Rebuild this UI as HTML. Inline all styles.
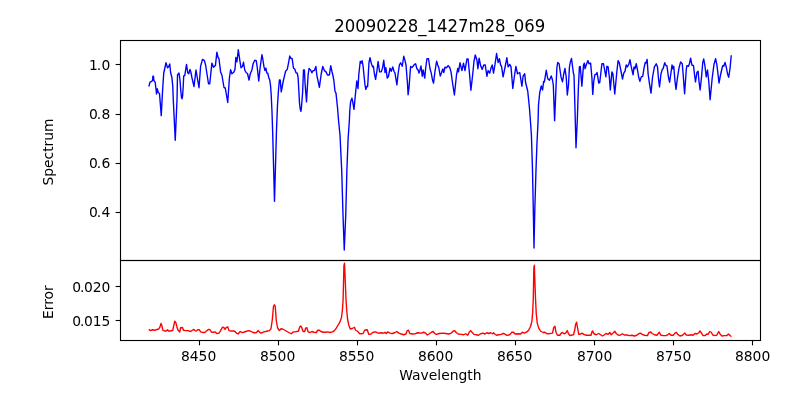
<!DOCTYPE html>
<html lang="en"><head><meta charset="utf-8"><title>20090228_1427m28_069</title>
<style>html,body{margin:0;padding:0;background:#fff;width:800px;height:400px;overflow:hidden}svg{display:block}text{font-family:"DejaVu Sans","Liberation Sans",sans-serif;fill:#000}.tk{font-size:13.89px}.ti{font-size:16.67px}</style></head><body>
<svg width="800" height="400" viewBox="0 0 800 400">
<rect width="800" height="400" fill="#fff"/>
<clipPath id="c1"><rect x="120.5" y="40.5" width="640" height="220"/></clipPath>
<clipPath id="c2"><rect x="120.5" y="260.5" width="640" height="80"/></clipPath>
<polyline clip-path="url(#c1)" fill="none" stroke="#0000ff" stroke-width="1.39" stroke-linejoin="round" stroke-linecap="butt" points="148.9,86.5 150,82.2 151.6,81.4 152.5,80.5 152.9,76.3 153.5,76.3 153.9,80.5 155.2,82.3 156,89 156.5,94 157.25,88.6 158.25,92.5 159.5,93.5 161.25,115.6 162.6,90 163.75,73 166,62.75 167.5,67.75 168.5,67 169.75,64 170.6,72.5 171.9,77.5 172.75,86.25 173.3,100 175.25,140.25 177,100 177.5,75 179,73 180,80 180.8,91 181.5,97.5 182,98.8 182.6,96 183.3,85 183.7,76 184.75,75.6 186.5,64.4 187.75,72.75 188.75,73.75 190,69.4 191,72.75 191.9,77.5 194,86.5 196,70 197.25,77.5 199,87.75 200.6,66.25 202.5,59.4 204.4,60.6 205.6,65 208.5,83.75 209.75,83.75 211.9,63.1 213.5,67.25 215.4,65.6 216.9,52.1 218.1,57.5 219,58.75 220.6,71.9 221.9,75 224,87.5 225.25,88 227.75,102.5 229.4,78 230.6,69.75 231.9,73.75 233.75,72.25 235,69.4 235.8,57.5 236.9,61.9 238.3,49.75 239.75,60 241,67.75 242.5,66.25 243.5,62.25 244.75,70 246.25,72.75 247.5,73.5 249,80 250.25,73.75 251.9,70 253.1,63.75 254.75,60.25 256.25,60.6 257.25,67.5 258.75,81 260,68.75 261.9,54.75 262.75,58.75 264,66.9 265,70.6 265.9,68.1 266.9,73.1 267.75,73.1 268.75,77.5 269.75,80 270.6,86.25 271.2,95 272,112 272.6,130 274.5,201.25 276.5,130 277.5,105 278.5,90 279.4,80 280.25,80 281.25,91.9 283.1,82 283.5,80 285.6,71.25 287.25,69.4 288.5,63.1 289.75,56 290.9,58.5 292.1,58.5 293.5,68.1 294.75,69 296,72.75 297.25,73.1 298.1,77.5 298.8,90 299.5,103 300.2,109 300.9,111.3 301.4,108 302.6,92.5 303.5,70 304.4,70 305,82.5 306.5,101.9 308.1,75 309,68.5 310.6,70 311.9,72.75 313.1,70.6 314.4,70.6 315.9,66.5 316.9,75.6 319.4,87.25 321.25,73.75 322.75,66.5 324.4,70.6 326,71.9 327.5,75 329.4,75 330.75,65.6 331.9,71.25 333.1,76.25 333.8,80 335,91.25 336,93.1 337.5,107.5 338.5,120 340,135 341.7,170 343,215 344.25,250 345.75,215 346.9,170 348.1,138.75 349.4,120 349.75,111.25 350.6,101.9 351.9,98.1 352.75,101.9 354,109.4 355.6,92.5 356.8,81 358,88.5 358.75,75 360.25,61.25 361.25,63.1 362.1,60.6 363.1,66.25 365,85 365.8,89.4 366.6,87.2 367.1,85.9 367.6,86.6 368.05,80 368.4,72.5 369,62.5 370,57.75 371.25,63.1 372.5,66.9 373.4,66.25 374.4,73.75 375.6,79.4 376.9,71.25 378.1,61.5 379.6,71.9 381.25,71.9 382.5,68.1 383.75,60.25 385,72.5 385.9,67.75 387.25,78.1 388.5,76.25 390,68.1 391.25,71.25 392.75,66.9 394,71.25 395,73.1 396.9,84.9 398.1,73.75 399.4,65 400.6,62.75 402.25,66.25 403.75,56.25 405,60.6 406,65 407.5,83.75 408.1,94.75 409,88 409.75,77.5 410.6,66.5 411.9,67.5 413.1,66.25 414.4,64.4 415.6,63.75 416.9,68.75 418.1,70 419,73.1 420,70 421,66 422.25,76.25 423.1,70 424.75,78.1 425.6,68.75 426.9,58.75 428.5,58.75 430,68.75 431.25,73.1 432.5,80 433.5,83.1 435,71.25 436.6,61.25 437.75,65 438.75,67.5 440.25,76 441.5,72.75 442.75,69 443.75,72.5 445,67.25 446.5,67.75 448.1,65.6 449.75,67.5 451,71.9 452.5,82.5 454.4,95 456.5,75 457.75,68.5 458.5,71.9 460,62.75 461.9,70.6 463.5,63.1 465,70.6 466.9,59 468.1,59 469.4,72.5 470.9,90.25 472.5,76.25 474,61.25 475.25,55 476.9,60 477.9,68.75 479.1,58.1 480.6,65.6 482.25,69.4 483.75,65 485.25,65 486.9,76.25 488.1,70.6 489.75,73.1 491,68.1 492.25,65 493.5,73.1 495,64.4 496.6,53.5 498.1,62.5 499.4,58.75 500.6,65 501.5,66.25 503.1,76.9 505,67.5 506.9,57.75 508.1,66.9 509.75,64.4 511,66.9 512.8,88.5 514.4,76.25 515.9,66.5 517.5,73.75 519.75,72.5 521.9,86.25 523.1,76.25 524.75,73.75 525.6,82.5 527.75,91.25 529.4,107.5 530.5,122 531.4,135 532.5,170 533.3,210 534,248 534.8,210 536,170 536.9,145 538.1,120 538.5,105 539.75,92.5 541.25,86 542.6,90 543.6,81.5 544.4,81.9 546.25,70.25 547.75,78.75 549.4,80.25 551.25,76 552.5,80 553.3,85 554.6,120.6 556.1,85 556.9,67.5 557.75,62.5 559.1,63.75 561,76.9 562.5,81.9 563.75,73.75 565,68.5 566.25,77.5 567.3,95 568.5,85 569.4,67.5 570.25,62.5 571.5,58.5 572.5,66.25 573.4,73.1 574,75 575,110 576,147.75 577.3,120 578.3,90 579.4,66.9 580.25,66.5 581.9,86.25 583.5,65 584.4,63.1 585,68.75 586.25,65 587.9,60.6 589,63.75 590.6,63.1 591.9,77.5 592.75,94.4 593.75,81.25 595,74.4 596.25,74.4 597.1,72.5 598.75,83.1 599.75,82.5 601.9,63.75 603.5,63.75 604.4,68.75 605.9,76.9 606.9,66.25 608.1,66.9 609.4,77.5 610.3,90 611.9,71.9 612.9,73.75 614.75,94 616.9,71.25 618.1,60.6 619.4,63.1 621,71.25 622.5,79 623.75,73.1 625,71.25 626.25,65 627.25,66.9 628.75,64.4 630,59.75 631.25,66.9 633.1,74.75 634,66.9 635,68.75 636.25,63.75 637.5,70 638.75,77.5 639.9,81.4 641.25,76.9 642.75,76.25 644,68.1 645.25,62.5 646,63.1 647.1,59.4 648.1,73.75 649.4,83.1 651,93.1 652.5,77.5 654.4,66.9 656.25,63.75 657.5,66.9 658.5,78.75 659.5,86.9 661,73.75 662.25,69.4 663.1,68.75 664.75,62.75 665.9,65.6 666.9,65.6 668.5,77.5 669.6,82.2 671,72.5 672,65 672.9,68.75 673.75,66.25 675,81.25 676,89.4 677.5,77.5 679,68.1 680.6,61.9 682.25,63.75 683.1,73.75 684.6,93.75 686.25,70 686.9,65.6 688.5,66.25 689.4,63.75 690.6,58.1 691.9,65 693.5,65.6 694.4,73.75 695.5,81.9 696.9,72.5 698.1,71.25 699,81.25 700.1,90 701.5,77.5 702.75,62.5 703.75,59 705,66.25 706.25,76.9 707.5,70 708.75,81.25 710.1,99.75 712.25,77.5 714,64.4 715.6,58.75 716.9,65 718.1,75 719,83 720.25,76.25 721.9,68.75 722.75,65.6 723.75,66.25 725,62.5 726.25,66.9 727.5,73.75 728.7,77.25 730,68.75 731.25,55.25"/>
<polyline clip-path="url(#c2)" fill="none" stroke="#ff0000" stroke-width="1.39" stroke-linejoin="round" stroke-linecap="butt" points="148.75,329.4 150.6,330.6 152.5,329.75 154.4,330.25 156.25,329.75 158.75,329 160,326.9 161,323.5 161.9,325.6 162.75,330 164.4,331 166.25,331 167.5,329.75 168.5,331 170.6,331 172.75,330.25 173.75,325.6 174.75,321.25 175.9,322.75 176.9,326.9 178.1,330.25 179.75,331.9 180.6,327.75 182.5,327.5 183.5,330.25 185.6,330.6 188.1,330.6 190.6,331.5 192.25,330.25 193.75,329.4 195,330.6 196.25,331 197.75,329.75 199.4,329.75 200.6,331.9 202.5,332.25 204.75,332.5 206.5,331 208.5,329.4 210,329.75 211.5,332.25 213.75,332.25 215.25,331.9 216.9,333.5 219,333.1 220.6,330.6 222.25,327.5 223.75,327.25 225,329.4 226,327.75 227.75,326.9 229,330.6 231.25,331 233.5,331 235,331.5 236.5,333.1 238.1,334 240.25,331.5 241.9,332.5 243.75,332.25 245.6,331.5 248.75,330.6 250.6,331.25 252.5,332.25 254.4,332.75 256.5,332.5 258.1,330.6 259.4,331.9 260.6,333.1 262.25,332.75 263.75,331.9 265.6,331.5 267.5,331 269.4,330.6 271,328.75 272.25,320 273.5,306.25 274.4,304.75 275.25,306.25 276.25,320 277.5,327.75 279.4,330.6 281,328.75 282.5,329 284.4,330 286.25,331 288.75,332.5 291.25,333.75 293.1,331.9 295,331.9 296.9,331.5 298.5,331 299.75,326.9 300.9,326 301.9,328.1 303.1,331.5 304.75,331.5 305.6,328.1 306.9,327.75 308.1,331.9 310,332.5 311.9,331.5 313.75,332.25 316.25,332.5 317.75,330.25 319.4,330.25 321,331.5 323.1,332.25 325,332.25 327.5,331.9 330,332.5 332.5,331.9 334.4,330.6 336.25,328.1 338.1,325 340,321.9 341.5,317.5 342.4,310 343.1,300 343.9,266 344.5,263.2 345.3,282 345.95,298 346.5,307.5 347.5,318.75 348.75,325 350.25,329 352.25,328.5 354.4,327.25 355.6,330.25 357.5,331.25 359.75,333.75 363.1,333.5 364.75,330 367.25,329.75 368.75,334.4 371,334 373.1,332.25 375.6,331.9 378.1,333.1 381.25,332.75 383.75,333.1 385,332.25 386.25,333.5 387.75,331.9 390,333.1 392.5,333.5 395,332.5 396.9,331.5 398.75,333.1 401.25,334 403.75,334.75 406,334 407.25,330.6 408.5,330.25 409.75,333.5 412.5,334 415,333.9 417.5,332.75 421.25,333.1 423.75,332.25 425.6,333.1 427.25,335 429.4,333.75 431.5,332.25 433.1,331.5 434.75,333.5 436.25,334.4 439.4,333.5 442.5,333.1 445.6,333.5 448.75,334 451.25,333.1 453.1,331.25 454.75,330.6 456.25,332.5 458.1,334 461.25,334.4 463.75,334.75 465.6,333.75 467.75,335.25 469.4,331.9 470.6,330.6 472.25,332.5 474,334.4 476.25,334.75 478.5,335.25 480.6,333.75 483.1,333.1 485,334 486.9,332.75 488.75,333.5 490.6,332.75 492.5,333.75 493.5,332.75 494.75,334 496.5,335.25 498.75,334.75 501.25,334.4 503.1,333.3 504.75,334 506.9,335.4 508.75,335 510,334.4 511.9,332.25 513.5,332.25 515,334 518.1,333.75 520.6,334 522.25,332.25 524.4,333.1 526.9,331.9 528.75,330 530.6,326.25 531.9,321.25 532.75,311.25 533.3,298 533.85,268 534.35,265.3 534.9,282 535.5,298 536.25,313.75 537.25,323.1 538.75,328.1 540.6,331.25 543.1,332.5 545,332.25 546.9,333.75 550,333.5 552.5,333.1 553.75,327.5 555,326.25 556,332.5 557.5,335.25 559.75,335.25 561.25,333.1 562.5,332.5 564,333.75 565.6,333.1 567.25,330.6 568.5,333.75 570,335.6 571.9,335 573.5,334.75 574.75,330 575.6,324.4 576.6,322.25 577.5,327.5 578.75,334.4 580.6,334 581.9,333.1 583.75,334.4 586.25,335.25 588.75,335.25 591,335.25 591.9,331.9 592.7,331 593.9,333.75 596.25,334.75 598.75,333.5 600.6,334.75 602.5,336 604.4,334.75 606,333.5 608.1,334.4 609.75,332.5 611.25,334.75 613.1,333.1 614.75,331.25 616.25,333.5 618.1,335 620,335.25 622.25,333.75 624.4,335 626.9,335 629.4,335.6 631.9,335.25 634.4,336 636.9,335.25 638.75,333.75 640.25,333.1 642.25,334.4 644.4,335.25 647.5,335.6 648.75,332.75 650.6,331.9 652.25,333.5 654.4,334.75 656.9,335.25 658.5,333.1 659.4,332.25 660.6,335 663.1,335.6 666.25,335.6 668.1,334.4 669.4,333.5 671,335.25 673.1,335.25 675,333.1 676.25,332.25 677.75,334.4 680,336 682.5,335.25 684.75,333.1 686.25,335 688.75,335.25 691.25,334.75 693.1,335.25 695,333.5 696.9,334 698.75,332.75 700,331 701.5,333.1 703.1,335.6 705,335.6 706.9,334 708.1,334.4 709.75,331.5 711.25,332.25 712.75,335 715,335.6 716.9,335 718.75,331.5 720,334 721.9,336 724.4,335.6 726.9,335.6 728.5,334 730,335.6 731.5,336.5"/>
<g fill="none" stroke="#000" stroke-width="1.11" stroke-linecap="square">
<rect x="120.5" y="40.5" width="640" height="220"/>
<rect x="120.5" y="260.5" width="640" height="80"/>
</g>
<g stroke="#000" stroke-width="1.11" stroke-linecap="butt">
<line x1="199.5" y1="340.5" x2="199.5" y2="345.36"/>
<line x1="278.5" y1="340.5" x2="278.5" y2="345.36"/>
<line x1="357.5" y1="340.5" x2="357.5" y2="345.36"/>
<line x1="436.5" y1="340.5" x2="436.5" y2="345.36"/>
<line x1="515.5" y1="340.5" x2="515.5" y2="345.36"/>
<line x1="594.5" y1="340.5" x2="594.5" y2="345.36"/>
<line x1="673.5" y1="340.5" x2="673.5" y2="345.36"/>
<line x1="752.5" y1="340.5" x2="752.5" y2="345.36"/>
<line x1="115.64" y1="64.5" x2="120.5" y2="64.5"/>
<line x1="115.64" y1="114.5" x2="120.5" y2="114.5"/>
<line x1="115.64" y1="163.5" x2="120.5" y2="163.5"/>
<line x1="115.64" y1="212.5" x2="120.5" y2="212.5"/>
<line x1="115.64" y1="286.5" x2="120.5" y2="286.5"/>
<line x1="115.64" y1="320.5" x2="120.5" y2="320.5"/>
</g>
<text class="tk" x="198.6" y="361.1" text-anchor="middle">8450</text>
<text class="tk" x="277.6" y="361.1" text-anchor="middle">8500</text>
<text class="tk" x="356.6" y="361.1" text-anchor="middle">8550</text>
<text class="tk" x="435.6" y="361.1" text-anchor="middle">8600</text>
<text class="tk" x="514.6" y="361.1" text-anchor="middle">8650</text>
<text class="tk" x="594.6" y="361.1" text-anchor="middle">8700</text>
<text class="tk" x="673.6" y="361.1" text-anchor="middle">8750</text>
<text class="tk" x="752.6" y="361.1" text-anchor="middle">8800</text>
<text class="tk" y="69.8"><tspan x="89.02">1</tspan><tspan x="96.80">.</tspan><tspan x="101.57">0</tspan></text>
<text class="tk" y="118.7"><tspan x="89.02">0</tspan><tspan x="96.80">.</tspan><tspan x="101.57">8</tspan></text>
<text class="tk" y="167.7"><tspan x="89.02">0</tspan><tspan x="96.80">.</tspan><tspan x="101.57">6</tspan></text>
<text class="tk" y="216.6"><tspan x="89.02">0</tspan><tspan x="96.80">.</tspan><tspan x="101.57">4</tspan></text>
<text class="tk" y="291.7"><tspan x="72.15">0</tspan><tspan x="79.93">.</tspan><tspan x="83.90">020</tspan></text>
<text class="tk" y="325.7"><tspan x="72.15">0</tspan><tspan x="79.93">.</tspan><tspan x="83.90">015</tspan></text>
<text class="ti" transform="translate(439.7,32) scale(0.991,1.075)" text-anchor="middle">20090228_1427m28_069</text>
<text class="tk" x="440.4" y="380" text-anchor="middle">Wavelength</text>
<text class="tk" transform="translate(52.7,152) rotate(-90)" text-anchor="middle">Spectrum</text>
<text class="tk" transform="translate(52.7,302.1) rotate(-90)" text-anchor="middle">Error</text>
</svg></body></html>
